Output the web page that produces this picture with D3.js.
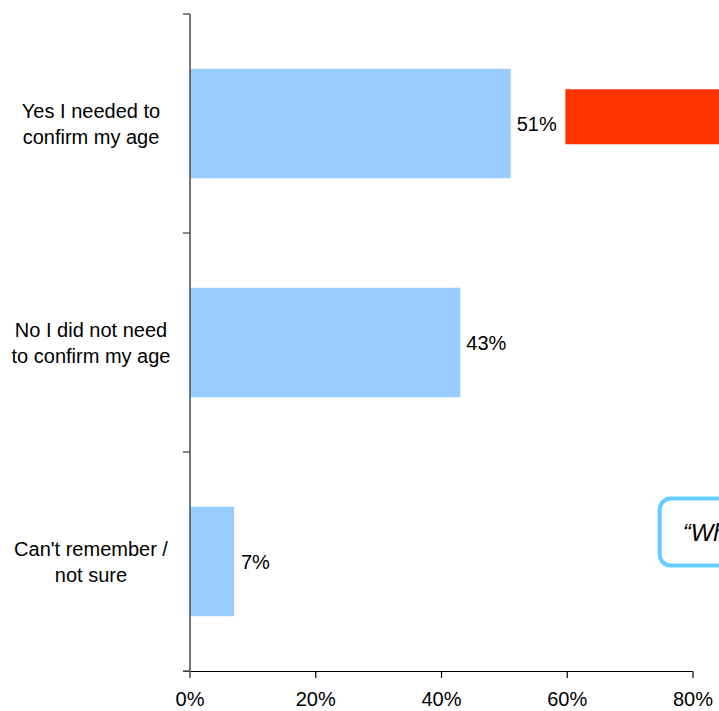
<!DOCTYPE html>
<html>
<head>
<meta charset="utf-8">
<script src="https://cdn.jsdelivr.net/npm/d3@7"></script>
<style>
  html, body { margin: 0; padding: 0; background: #fff; }
  svg { display: block; }
  text { font-family: "Liberation Sans", Arial, sans-serif; }
</style>
</head>
<body>
<div id="chart"></div>
<script>
const categories = [
  ["Yes I needed to", "confirm my age"],
  ["No I did not need", "to confirm my age"],
  ["Can't remember /", "not sure"]
];
const values = [51, 43, 7];
const valueLabels = ["51%", "43%", "7%"];
const xTicks = [0, 20, 40, 60, 80];
const xTickLabels = ["0%", "20%", "40%", "60%", "80%"];
// partially visible annotation shapes (cut off at right edge in the original)
const redBarStart = 59.7;
const calloutStart = 74.7;
const calloutText = "\u201CWh";

const W = 719, H = 711;
const FS = 20;
const svg = d3.select("#chart").append("svg").attr("width", W).attr("height", H);

const x = d3.scaleLinear().domain([0, 100]).range([190, 190 + 628.75]);
const keys = categories.map((c, i) => i);
const y = d3.scaleBand().domain(keys).range([14, 671]).paddingInner(0.5).paddingOuter(0.25);
const yOuter = d3.scaleBand().domain(keys).range([14, 671]);

// bars
svg.selectAll("rect.bar").data(values).enter().append("rect")
  .attr("class", "bar")
  .attr("x", x(0))
  .attr("y", (d, i) => y(i))
  .attr("width", d => x(d) - x(0))
  .attr("height", y.bandwidth())
  .attr("fill", "#99CCFF");

// value labels
svg.selectAll("text.val").data(values).enter().append("text")
  .attr("class", "val")
  .attr("x", (d, i) => x(d) + (i === 2 ? 7 : 6))
  .attr("y", (d, i) => y(i) + y.bandwidth() / 2)
  .attr("dy", "0.36em")
  .attr("font-size", FS)
  .attr("fill", "#000")
  .text((d, i) => valueLabels[i]);

// x axis
const xAxisY = 671.5;
svg.append("line")
  .attr("x1", x(0) - 7).attr("x2", x(80))
  .attr("y1", xAxisY).attr("y2", xAxisY)
  .attr("stroke", "#000").attr("stroke-width", 1.2);
svg.selectAll("line.xt").data(xTicks.slice(1)).enter().append("line")
  .attr("x1", d => x(d)).attr("x2", d => x(d))
  .attr("y1", xAxisY).attr("y2", xAxisY + 6.5)
  .attr("stroke", "#000").attr("stroke-width", 1.2);
svg.selectAll("text.xl").data(xTicks).enter().append("text")
  .attr("x", d => x(d))
  .attr("y", 706)
  .attr("text-anchor", "middle")
  .attr("font-size", FS)
  .text((d, i) => xTickLabels[i]);

// y axis
svg.append("line")
  .attr("x1", x(0)).attr("x2", x(0))
  .attr("y1", 14).attr("y2", xAxisY + 6.5)
  .attr("stroke", "#555").attr("stroke-width", 1.6);
const yTickPos = keys.map(k => yOuter(k)).concat([yOuter.range()[1]]);
svg.selectAll("line.yt").data(yTickPos).enter().append("line")
  .attr("x1", x(0) - 7).attr("x2", x(0))
  .attr("y1", d => d).attr("y2", d => d)
  .attr("stroke", "#555").attr("stroke-width", 1.4);

// category labels
categories.forEach((lines, i) => {
  const cy = y(i) + y.bandwidth() / 2;
  const t = svg.append("text")
    .attr("text-anchor", "middle")
    .attr("font-size", FS)
    .attr("x", 91)
    .attr("y", cy - 13);
  lines.forEach((ln, j) => {
    t.append("tspan").attr("x", 91).attr("dy", j === 0 ? "0.36em" : 26).text(ln);
  });
});

// red bar annotation (cut off)
svg.append("rect")
  .attr("x", x(redBarStart))
  .attr("y", y(0) + 20.5)
  .attr("width", W - x(redBarStart) + 20)
  .attr("height", 55)
  .attr("fill", "#FF3300");

// callout box (cut off)
const bx = x(calloutStart);
svg.append("rect")
  .attr("x", bx)
  .attr("y", 498.5)
  .attr("width", 200)
  .attr("height", 67)
  .attr("rx", 11).attr("ry", 11)
  .attr("fill", "#fff")
  .attr("stroke", "#66CCFF")
  .attr("stroke-width", 4);
svg.append("text")
  .attr("x", bx + 23)
  .attr("y", 541)
  .attr("font-size", 24)
  .attr("font-style", "italic")
  .text(calloutText);
</script>
</body>
</html>
